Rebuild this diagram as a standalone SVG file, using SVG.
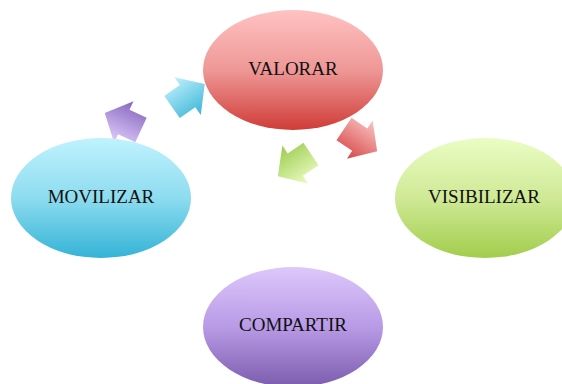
<svg xmlns="http://www.w3.org/2000/svg" width="562" height="384" viewBox="0 0 562 384">
  <defs>
    <linearGradient id="gRed" x1="0" y1="0" x2="0" y2="1">
      <stop offset="0" stop-color="#ffc2c2"/>
      <stop offset="0.5" stop-color="#ee9896"/>
      <stop offset="1" stop-color="#d03c38"/>
    </linearGradient>
    <linearGradient id="gGreen" x1="0" y1="0" x2="0" y2="1">
      <stop offset="0" stop-color="#eafdc4"/>
      <stop offset="0.5" stop-color="#cfe996"/>
      <stop offset="1" stop-color="#a2cd4c"/>
    </linearGradient>
    <linearGradient id="gCyan" x1="0" y1="0" x2="0" y2="1">
      <stop offset="0" stop-color="#c0f2fe"/>
      <stop offset="0.5" stop-color="#8ddcef"/>
      <stop offset="1" stop-color="#34b3d6"/>
    </linearGradient>
    <linearGradient id="gPurple" x1="0" y1="0" x2="0" y2="1">
      <stop offset="0" stop-color="#ddc8fb"/>
      <stop offset="0.5" stop-color="#b89ae6"/>
      <stop offset="1" stop-color="#7c5cae"/>
    </linearGradient>
    <linearGradient id="aRed" gradientUnits="userSpaceOnUse" x1="0" y1="-23" x2="0" y2="23">
      <stop offset="0" stop-color="#f9c4c4"/>
      <stop offset="1" stop-color="#d64846"/>
    </linearGradient>
    <linearGradient id="aGreen" gradientUnits="userSpaceOnUse" x1="0" y1="-23" x2="0" y2="23">
      <stop offset="0" stop-color="#ecfdc4"/>
      <stop offset="1" stop-color="#9ccb4e"/>
    </linearGradient>
    <linearGradient id="aCyan" gradientUnits="userSpaceOnUse" x1="0" y1="-23" x2="0" y2="23">
      <stop offset="0" stop-color="#c0f0fc"/>
      <stop offset="1" stop-color="#3cb6d8"/>
    </linearGradient>
    <linearGradient id="aPurple" gradientUnits="userSpaceOnUse" x1="0" y1="-23" x2="0" y2="23">
      <stop offset="0" stop-color="#e0ccfb"/>
      <stop offset="1" stop-color="#8566bf"/>
    </linearGradient>
    <polygon id="arrow" points="0,-13.5 19,-13.5 19,-23 40,0 19,23 19,13.5 0,13.5"/>
  </defs>
  <style>
    .lbl { font-family: "Liberation Serif", "DejaVu Serif", serif; font-size: 19px; fill: #111; text-anchor: middle; }
  </style>
  <rect width="562" height="384" fill="#ffffff"/>
  <g id="connectors">
    <use href="#arrow" fill="url(#aPurple)" transform="translate(141,130) rotate(205)"/>
    <use href="#arrow" fill="url(#aCyan)" transform="translate(172,107) rotate(-35)"/>
    <use href="#arrow" fill="url(#aRed)" transform="translate(344,129) rotate(34)"/>
    <use href="#arrow" fill="url(#aGreen)" transform="translate(311,154) rotate(146)"/>
  </g>
  <g id="valorar">
    <ellipse cx="293" cy="70" rx="90" ry="60" fill="url(#gRed)"/>
    <text class="lbl" x="293" y="75">VALORAR</text>
  </g>
  <g id="visibilizar">
    <ellipse cx="485" cy="198" rx="90" ry="60" fill="url(#gGreen)"/>
    <text class="lbl" x="484" y="203">VISIBILIZAR</text>
  </g>
  <g id="compartir">
    <ellipse cx="293" cy="327" rx="90" ry="60" fill="url(#gPurple)"/>
    <text class="lbl" x="293" y="331">COMPARTIR</text>
  </g>
  <g id="movilizar">
    <ellipse cx="101" cy="198" rx="90" ry="60" fill="url(#gCyan)"/>
    <text class="lbl" x="101" y="203">MOVILIZAR</text>
  </g>
</svg>
